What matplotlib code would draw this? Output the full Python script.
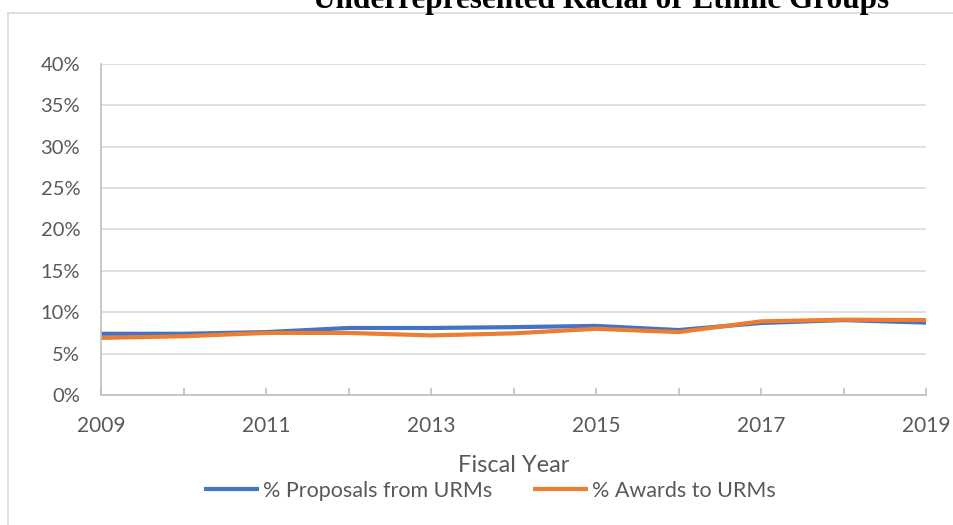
import matplotlib
matplotlib.use("Agg")
import matplotlib.pyplot as plt
from matplotlib.lines import Line2D
from matplotlib.ticker import FuncFormatter, MultipleLocator

years = [2009, 2010, 2011, 2012, 2013, 2014, 2015, 2016, 2017, 2018, 2019]
proposals = [7.4, 7.4, 7.6, 8.1, 8.1, 8.2, 8.35, 7.85, 8.7, 9.05, 8.75]
awards = [6.9, 7.1, 7.5, 7.5, 7.2, 7.45, 8.0, 7.6, 8.9, 9.1, 9.05]
series_names = ["% Proposals from URMs", "% Awards to URMs"]
title = "Underrepresented Racial or Ethnic Groups"
xlabel = "Fiscal Year"

plt.rcParams['font.family'] = ['Lato', 'DejaVu Sans']
gray = "#595959"

fig = plt.figure(figsize=(9.54, 5.25), dpi=100)
ax = fig.add_axes([101/954, 1-395/525, (926-101)/954, (395-64)/525])

ax.plot(years, proposals, color="#4472C4", lw=3, label=series_names[0], solid_capstyle='butt')
ax.plot(years, awards, color="#ED7D31", lw=3, label=series_names[1], solid_capstyle='butt')

ax.set_xlim(2009, 2019)
ax.set_ylim(0, 40)
ax.yaxis.set_major_locator(MultipleLocator(5))
ax.yaxis.set_major_formatter(FuncFormatter(lambda v, p: f"{int(round(v))}%"))
ax.set_xticks(years[::2])
ax.set_xticks(years[1::2], minor=True)
ax.grid(axis='y', color="#d9d9d9", lw=1.2)
ax.set_axisbelow(True)
for s in ['top', 'right']:
    ax.spines[s].set_visible(False)
for s in ['left', 'bottom']:
    ax.spines[s].set_color("#bfbfbf")
    ax.spines[s].set_linewidth(1.2)
ax.tick_params(axis='y', length=0, labelsize=14.5, labelcolor=gray, pad=15)
ax.tick_params(axis='x', which='both', direction='in', length=5, color="#bfbfbf", width=1.2,
               labelsize=15, labelcolor=gray, pad=15)

ax.set_xlabel(xlabel, fontsize=17, color=gray, labelpad=14)

leg = fig.legend(loc='center', bbox_to_anchor=(490/954, 1-491/525), ncol=2, frameon=False,
                 fontsize=15.5, labelcolor=gray, handlelength=2.55, handletextpad=0.2,
                 columnspacing=1.9, borderpad=0)

fig.text(601/954, 1-8.3/525, title, ha='center', va='baseline', fontsize=22.5,
         fontweight='bold', family=['Liberation Serif'], color='black')

fig.add_artist(Line2D([8/954, 8/954], [0, 1-13/525], color="#d9d9d9", lw=1.2,
                      transform=fig.transFigure))
fig.add_artist(Line2D([8/954, 1], [1-13/525, 1-13/525], color="#d9d9d9", lw=1.2,
                      transform=fig.transFigure))

fig.savefig("out.png", dpi=100)
